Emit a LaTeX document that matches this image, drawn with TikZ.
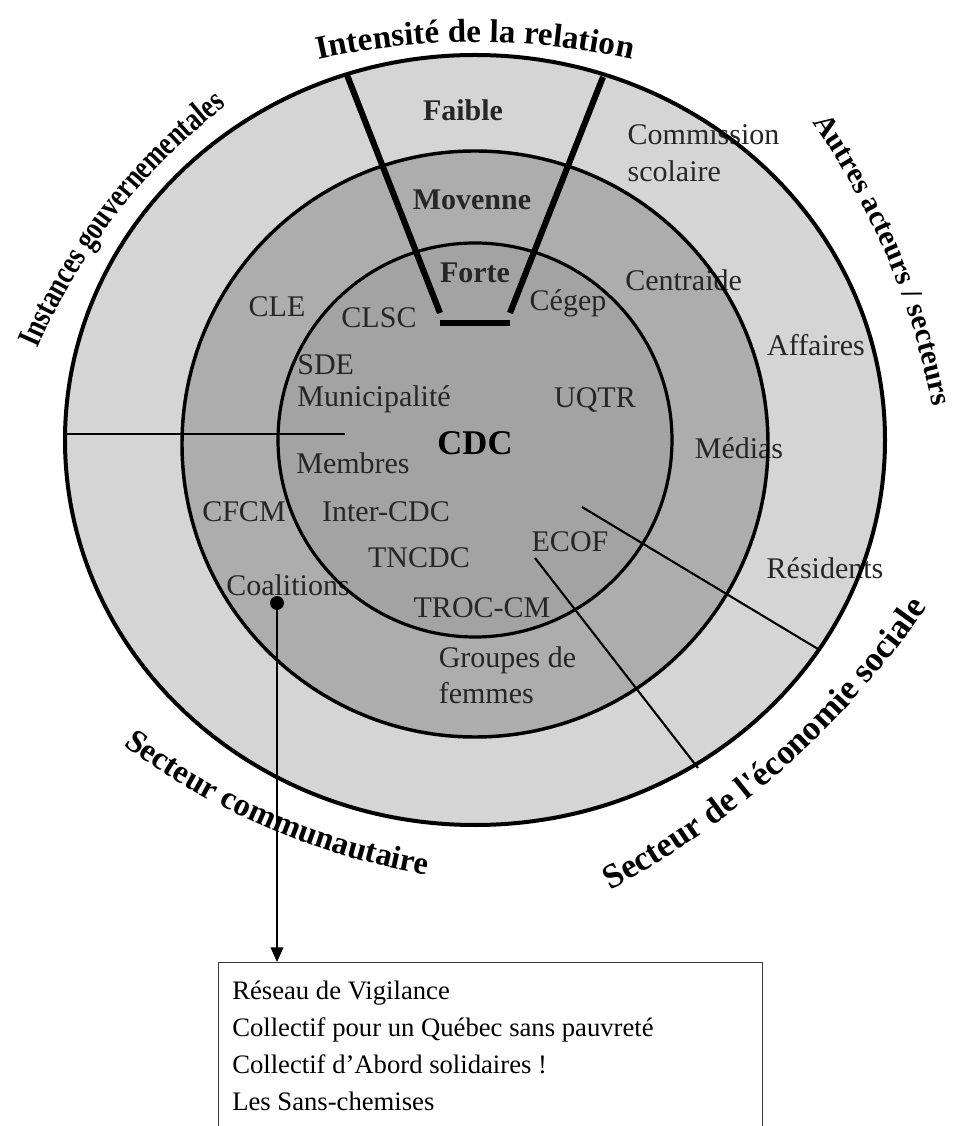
\documentclass[tikz,border=0pt]{standalone}
\usepackage{fontspec}
\setmainfont{Liberation Serif}
\newfontfamily\narrowserif{Liberation Serif}[FakeStretch=0.78]
\newfontfamily\straightserif{Liberation Serif}[Ligatures=TeXOff]
\usetikzlibrary{decorations.text,arrows.meta}

\definecolor{ringout}{HTML}{D5D5D5}
\definecolor{ringmid}{HTML}{ADADAD}
\definecolor{ringin}{HTML}{A3A3A3}
\definecolor{labelink}{HTML}{262626}
\definecolor{framegray}{HTML}{3A3A3A}

% fonts of the arched titles
\newcommand\titlefont{\fontsize{24.75}{30}\selectfont\bfseries}
\newcommand\govfont{\narrowserif\fontsize{25}{30}\selectfont\bfseries}
\newcommand\autresfont{\fontsize{22.3}{28}\selectfont\bfseries}
\newcommand\commfont{\fontsize{24.4}{30}\selectfont\bfseries}
\newcommand\ecofont{\straightserif\fontsize{26}{32}\selectfont\bfseries}

\tikzset{
  lbl/.style={font=\fontsize{22.5}{27.5}\selectfont, text=labelink, inner sep=0pt},
  lvl/.style={font=\fontsize{22.5}{27}\selectfont\bfseries, text=labelink, inner sep=0pt},
  hub/.style={font=\fontsize{26}{30}\selectfont\bfseries, text=black, inner sep=0pt},
  ring/.style={draw=black},
  divider/.style={draw=black, line width=1.6pt},
  wedge/.style={draw=black, line width=4.6pt},
  listline/.style={font=\fontsize{20}{27}\selectfont, text=black, inner sep=0pt, anchor=base west},
  arched/.style={decorate, decoration={text along path, text align=center, text={#1}}}
}

\begin{document}
\begin{tikzpicture}[x=0.75pt, y=0.75pt]
\useasboundingbox (-475,-686) rectangle (486,440);
\clip (-475,-686) rectangle (486,440);
\fill[white] (-475,-686) rectangle (486,440);

% the three rings
\fill[ringout] (0,0) ellipse [x radius=410, y radius=385];
\fill[ringmid] (0,-4) circle [radius=293];
\fill[ringin] (0,0) circle [radius=197];

% intensity levels
\node[lvl] (faible) at (-12,330) {Faible};
\node[lvl] (moyenne) at (-3,240) {Movenne};
\node[lvl] (forte) at (0,167) {Forte};

% actors
\node[lbl] (cle) at (-198,133) {CLE};
\node[lbl] (clsc) at (-96,122) {CLSC};
\node[lbl] (cegep) at (93,137) {Cégep};
\node[lbl, align=left] (cs) at (228.5,286.5) {Commission\\scolaire};
\node[lbl, anchor=west] (centraide) at (150,160) {Centraide};
\node[lbl] (affaires) at (341,95) {Affaires};
\node[lbl] (uqtr) at (120,40) {UQTR};
\node[lbl, align=left, font=\fontsize{22.5}{24}\selectfont] (sde) at (-101,56) {SDE\\Municipalité};
\node[hub] (cdc) at (0,-3) {CDC};
\node[lbl] (medias) at (264,-8) {Médias};
\node[lbl] (membres) at (-122,-23) {Membres};
\node[lbl] (cfcm) at (-231,-72) {CFCM};
\node[lbl] (inter) at (-89,-72) {Inter-CDC};
\node[lbl] (ecof) at (95,-102) {ECOF};
\node[lbl] (tncdc) at (-56,-118) {TNCDC};
\node[lbl] (coal) at (-187,-145) {Coalitions};
\node[lbl] (troc) at (7,-168) {TROC-CM};
\node[lbl, align=left, font=\fontsize{22.5}{27}\selectfont] (femmes) at (32.5,-235) {Groupes de\\femmes};
\node[lbl] (residents) at (350,-128) {Résidents};

% ring outlines
\draw[ring, line width=3pt] (0,0) ellipse [x radius=410, y radius=385];
\draw[ring, line width=2.6pt] (0,-4) circle [radius=293];
\draw[ring, line width=2.4pt] (0,0) circle [radius=197];

% sector dividers
\coordinate (hzA) at (-410,6);
\coordinate (hzB) at (-130,6);
\draw[divider] (hzA) -- (hzB);
\coordinate (esA1) at (107,-67);
\coordinate (esB1) at (343,-209);
\coordinate (esA2) at (60,-118);
\coordinate (esB2) at (223,-328);
\draw[divider] (esA1) -- (esB1);
\draw[divider] (esA2) -- (esB2);

% intensity wedge
\coordinate (wl1) at (-128,365);
\coordinate (wl2) at (-35,127);
\coordinate (wr1) at (128,363);
\coordinate (wr2) at (35,127);
\coordinate (bar1) at (-35,117);
\coordinate (bar2) at (35,117);
\draw[wedge] (wl1) -- (wl2);
\draw[wedge] (wr1) -- (wr2);
\draw[draw=black, line width=5pt] (bar1) -- (bar2);

% arched titles
\path[arched={|\titlefont|Intensité de la relation}]
  (0,-322) ++(115:720) arc[start angle=115, end angle=65, radius=720];
\path[arched={|\govfont|Instances gouvernementales}]
  (127,-152) ++(162.2:614.6) arc[start angle=162.2, end angle=122.2, radius=614.6];
\path[arched={|\autresfont|Autres acteurs / secteurs}]
  (-266,-106) ++(43:737) arc[start angle=43, end angle=3, radius=737];
\path[arched={|\commfont|Secteur communautaire}]
  (74.5,272) ++(226.85:717.5) arc[start angle=226.85, end angle=266.85, radius=717.5];
\path[arched={|\ecofont|Secteur de l'économie sociale}]
  (-290,345) ++(-65.25:901.7) arc[start angle=-65.25, end angle=-31.25, radius=901.7];

% list of coalitions
\node[draw=framegray, line width=0.9pt, minimum width=408pt, minimum height=150pt,
      anchor=north west, inner sep=0pt] (frame) at (-257,-522) {};
\node[listline] (l1) at (-243,-559) {Réseau de Vigilance};
\node[listline] (l2) at (-243,-596) {Collectif pour un Québec sans pauvreté};
\node[listline] (l3) at (-243,-633) {Collectif d’Abord solidaires !};
\node[listline] (l4) at (-243,-670) {Les Sans-chemises};

\node[circle, fill=black, inner sep=0pt, minimum size=10.5pt] (dot) at (-198,-163) {};
\draw[line width=1.1pt, -{Triangle[width=9.5pt,length=11pt]}] (dot.center) -- (dot |- frame.north);
\end{tikzpicture}
\end{document}
